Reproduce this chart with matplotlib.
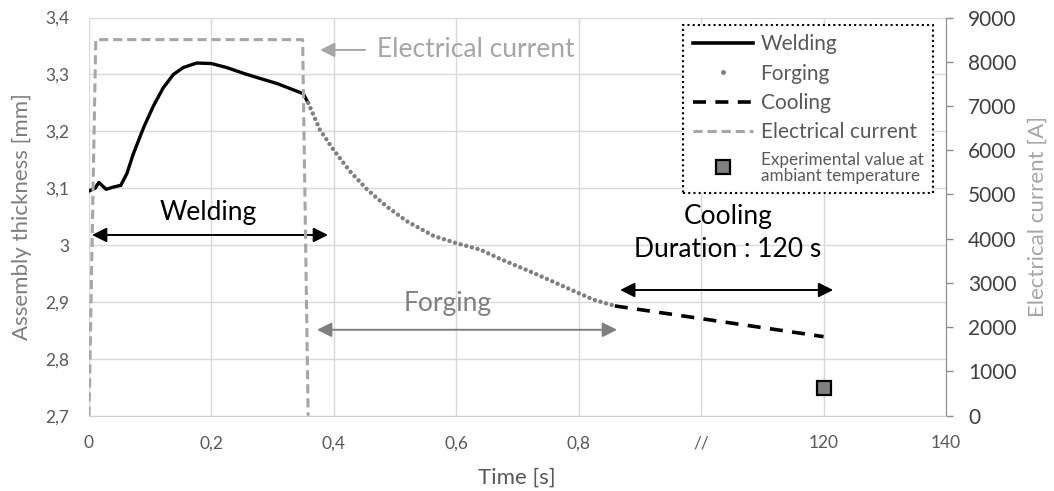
import matplotlib
matplotlib.use("Agg")
import matplotlib.pyplot as plt
from matplotlib.lines import Line2D
from matplotlib.ticker import FuncFormatter, MultipleLocator

plt.rcParams['font.family'] = ['Lato', 'DejaVu Sans']

# ---- data -------------------------------------------------------------
# time axis: 0..0.8 s is real time, 1.0 is a break, 1.2 stands for 120 s
x_ticks = [0, 0.2, 0.4, 0.6, 0.8, 1.0, 1.2, 1.4]
x_tick_labels = ['0', '0,2', '0,4', '0,6', '0,8', '//', '120', '140']

welding_t = [0, 0.010, 0.016, 0.028, 0.040, 0.052, 0.062, 0.072, 0.089, 0.105,
             0.121, 0.138, 0.154, 0.176, 0.200, 0.225, 0.252, 0.279, 0.307,
             0.331, 0.350, 0.358]
welding_mm = [3.095, 3.100, 3.110, 3.098, 3.102, 3.105, 3.126, 3.159, 3.206, 3.244,
              3.276, 3.300, 3.312, 3.320, 3.319, 3.312, 3.302, 3.293, 3.284,
              3.274, 3.266, 3.250]

forging_t = [0.358, 0.377, 0.399, 0.426, 0.454, 0.486, 0.519, 0.563, 0.601,
             0.639, 0.671, 0.726, 0.780, 0.824, 0.859]
forging_mm = [3.250, 3.203, 3.168, 3.130, 3.098, 3.068, 3.042, 3.016, 3.003,
              2.992, 2.976, 2.951, 2.925, 2.904, 2.893]

cooling_t = [0.859, 1.2]
cooling_mm = [2.893, 2.839]

experimental_t = [1.2]
experimental_mm = [2.748]

current_t = [0, 0.011, 0.349, 0.358]
current_A = [0, 8500, 8500, 0]

# ---- figure -----------------------------------------------------------
W, H = 1054, 491
fig = plt.figure(figsize=(W / 100, H / 100), dpi=100)
L, R, T, B = 89, 946, 17.5, 415.7
ax = fig.add_axes([L / W, 1 - B / H, (R - L) / W, (B - T) / H])
ax2 = ax.twinx()

grid_c = '#d9d9d9'
tick_c = '#595959'

ax.set_xlim(0, 1.4)
ax.set_ylim(2.7, 3.4)
ax2.set_ylim(0, 9000)
ax.set_xticks(x_ticks)
ax.set_xticklabels(x_tick_labels)
ax.yaxis.set_major_locator(MultipleLocator(0.1))


def comma_fmt(v, pos):
    s = f'{v:.1f}'.replace('.', ',')
    return s[:-2] if s.endswith(',0') else s


ax.yaxis.set_major_formatter(FuncFormatter(comma_fmt))
ax2.yaxis.set_major_locator(MultipleLocator(1000))

ax.grid(True, color=grid_c, lw=1)
ax.set_axisbelow(True)
for s in ax.spines.values():
    s.set_visible(False)
for s in ax2.spines.values():
    s.set_visible(False)
ax2.spines['right'].set_visible(True)
ax2.spines['right'].set_color('#8c8c8c')
ax2.spines['bottom'].set_visible(True)
ax2.spines['bottom'].set_color('#d0d0d0')

ax.tick_params(axis='both', length=0, labelsize=12.5, labelcolor=tick_c)
ax.tick_params(axis='y', pad=14)
ax.tick_params(axis='x', pad=14)
ax2.tick_params(axis='y', length=5, width=1, color='#8c8c8c', direction='out',
                labelsize=15, labelcolor='#404040', pad=11)

# ---- series -----------------------------------------------------------
ax2.plot(current_t, current_A, color='#a6a6a6', lw=2.2,
         linestyle=(0, (3, 1.6)), zorder=2)
ax.plot(welding_t, welding_mm, color='black', lw=2.4, zorder=4)
ax.plot(forging_t, forging_mm, color='#808080', lw=3.2,
        linestyle=(0, (0.01, 1.3)), dash_capstyle='round', zorder=4)
ax.plot(cooling_t, cooling_mm, color='black', lw=2.6,
        linestyle=(0, (3.6, 2.6)), zorder=4)
ax.plot(experimental_t, experimental_mm, linestyle='none', marker='s',
        markersize=10, markerfacecolor='#808080', markeredgecolor='black',
        markeredgewidth=1.6, zorder=5, clip_on=False)

# ---- annotations ------------------------------------------------------
def double_arrow(x0, x1, y, color):
    ax.annotate('', xy=(x1, y), xytext=(x0, y),
                arrowprops=dict(arrowstyle='<|-|>', color=color, lw=1.4,
                                mutation_scale=22, shrinkA=0, shrinkB=0))


double_arrow(0.0049, 0.3905, 3.0177, 'black')
ax.text(0.1944, 3.0564, 'Welding', fontsize=19, color='black',
        ha='center', va='center')

double_arrow(0.3725, 0.8627, 2.851, '#7f7f7f')
ax.text(0.5866, 2.898, 'Forging', fontsize=19, color='#7f7f7f',
        ha='center', va='center')

double_arrow(0.8676, 1.2157, 2.921, 'black')
ax.text(1.044, 3.050, 'Cooling', fontsize=19, color='black',
        ha='center', va='center')
ax.text(1.044, 2.9913, 'Duration : 120 s', fontsize=19, color='black',
        ha='center', va='center')

ax.annotate('', xy=(0.3775, 3.343), xytext=(0.451, 3.343),
            arrowprops=dict(arrowstyle='-|>', color='#a6a6a6', lw=1.4,
                            mutation_scale=22, shrinkA=0, shrinkB=0))
ax.text(0.4699, 3.343, 'Electrical current', fontsize=19, color='#a6a6a6',
        ha='left', va='center')

# ---- axis labels ------------------------------------------------------
ax.set_ylabel('Assembly thickness [mm]', fontsize=16, color='#7f7f7f')
ax.yaxis.label.set_va('center')
ax.yaxis.set_label_coords((22 - L) / (R - L), 0.5)
ax2.set_ylabel('Electrical current [A]', fontsize=16, color='#a6a6a6')
ax2.yaxis.label.set_va('center')
ax2.yaxis.set_label_coords((1038 - L) / (R - L), 0.5)
ax.set_xlabel('Time [s]', fontsize=16, color=tick_c)
ax.xaxis.label.set_va('center')
ax.xaxis.set_label_coords((517 - L) / (R - L), (B - 478) / (B - T))

# ---- legend -----------------------------------------------------------
handles = [
    Line2D([], [], color='black', lw=2.6),
    Line2D([], [], color='#808080', linestyle='none', marker='.', markersize=5),
    Line2D([], [], color='black', lw=2.6, linestyle=(0, (3.6, 2.6))),
    Line2D([], [], color='#a6a6a6', lw=2.2, linestyle=(0, (3, 1.6))),
    Line2D([], [], linestyle='none', marker='s', markersize=10,
           markerfacecolor='#808080', markeredgecolor='black', markeredgewidth=1.6),
]
labels = ['Welding', 'Forging', 'Cooling', 'Electrical current',
          'Experimental value at\nambiant temperature']
leg = ax2.legend(handles, labels, loc='upper right',
                 bbox_to_anchor=(932.7 / W, 1 - 25 / H),
                 bbox_transform=fig.transFigure, borderaxespad=0,
                 fontsize=15, labelcolor='#595959', fancybox=False,
                 framealpha=1, edgecolor='black', handlelength=2.9,
                 handletextpad=0.35, borderpad=0.45, labelspacing=0.45)
leg.get_frame().set_linestyle((0, (1, 1.5)))
leg.get_frame().set_linewidth(1.5)
leg.get_texts()[4].set_fontsize(12.3)
leg.get_texts()[4].set_linespacing(1.0)
leg.set_zorder(10)

fig.savefig('out.png', dpi=100)
